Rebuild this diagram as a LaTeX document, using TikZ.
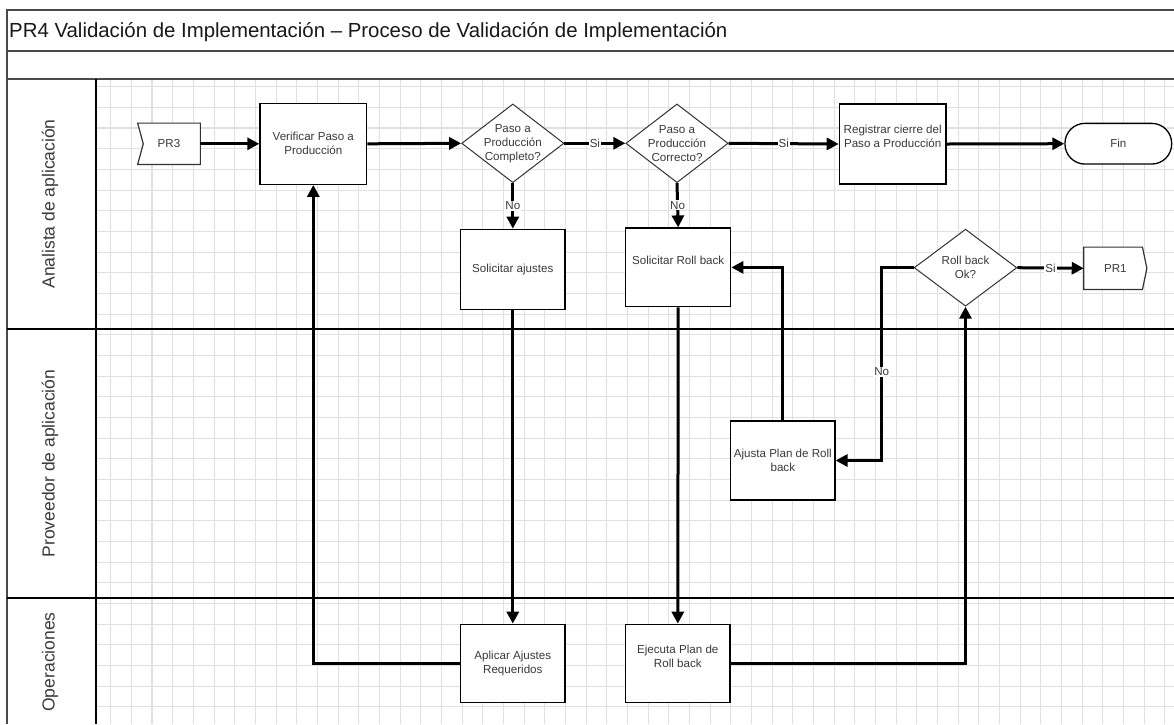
\documentclass[tikz,border=0pt]{standalone}
\usepackage{fontspec}
\setmainfont{Liberation Sans}
\usetikzlibrary{arrows.meta,shapes.geometric,calc}
\definecolor{gridline}{HTML}{E0E0E0}
\definecolor{frameline}{HTML}{4A4A4A}
\definecolor{inktext}{HTML}{3A3A3A}

\begin{document}
\begin{tikzpicture}[x=1pt,y=-1pt,
  every node/.style={font=\fontsize{11.6}{14}\selectfont, text=inktext},
  task/.style={rectangle, draw=black, line width=1.3pt, fill=white, inner sep=0pt, align=center},
  dia/.style={diamond, draw=black!80, line width=1pt, fill=white, inner sep=0pt,
              minimum width=102.3pt, minimum height=78.7pt},
  caption/.style={align=center, inner sep=0pt},
  hidden/.style={rectangle, draw=none, inner sep=0pt},
  connector/.style={draw=black!80, line width=1.2pt, fill=white, line join=miter},
  flow/.style={draw=black, line width=3pt, -{Triangle[length=12pt,width=12pt]}},
  lbl/.style={fill=white, inner sep=1pt},
  lane/.style={rotate=90, font=\fontsize{17.5}{20}\selectfont},
]
\useasboundingbox (0,0) rectangle (1174,724);
\fill[white] (0,0) rectangle (1174,724);

% background grid of the pool
\begin{scope}
  \clip (96,79) rectangle (1174,724);
  \foreach \i in {0,...,51}
    \draw[gridline, line width=1.1pt] ({110.7+20.67*\i},79) -- ({110.7+20.67*\i},724);
  \foreach \j in {0,...,30}
    \draw[gridline, line width=1.1pt] (96,{86.7+20.67*\j}) -- (1174,{86.7+20.67*\j});
\end{scope}

% pool frame, header rows and lanes
\draw[frameline, line width=1.6pt] (7,724) -- (7,10) -- (1174,10);
\draw[frameline, line width=2.2pt] (7,51) -- (1174,51);
\draw[frameline, line width=1.6pt] (7,79) -- (1174,79);
\draw[black, line width=1.3pt] (96,79) -- (96,724);
\draw[black, line width=1.2pt] (7,329) -- (1174,329);
\draw[black, line width=1.2pt] (7,598) -- (1174,598);

\node[anchor=base west, inner sep=0pt, text=black!90, font=\fontsize{20.4}{24}\selectfont] (title) at (9,37.3)
  {PR4 Validación de Implementación – Proceso de Validación de Implementación};

\node[lane] (laneA) at (50,204) {Analista de aplicación};
\node[lane] (laneB) at (50,463.5) {Proveedor de aplicación};
\node[lane] (laneC) at (50,662) {Operaciones};

% off-page references
\node[hidden, minimum width=62.3pt, minimum height=41pt] (pr3) at (169,143.8) {};
\draw[connector] (pr3.north west) -- (pr3.north east) -- (pr3.south east) -- (pr3.south west)
  -- ($(pr3.west)+(5.6,0)$) -- cycle;
\node (pr3T) at (pr3.center) {PR3};

\node[hidden, minimum width=62.7pt, minimum height=42pt] (pr1) at (1115.3,268.3) {};
\draw[connector] (pr1.north west) -- ($(pr1.north east)+(-4.4,0)$) -- (pr1.east)
  -- ($(pr1.south east)+(-4.4,0)$) -- (pr1.south west) -- cycle;
\node (pr1T) at (pr1.center) {PR1};

% tasks
\node[task, minimum width=106.7pt, minimum height=81pt] (verif) at (313.3,143.8) {Verificar Paso a\\Producción};
\node[task, minimum width=106.7pt, minimum height=80pt] (reg) at (892.7,144) {};
\node[caption] (regT) at (892.7,136) {Registrar cierre del\\Paso a Producción};
\node[task, minimum width=106.7pt, minimum height=40.7pt, rounded corners=20pt] (fin) at (1118.3,143.7) {Fin};

\node[task, minimum width=104.3pt, minimum height=80pt] (solaj) at (512.8,269.3) {Solicitar ajustes};
\node[task, minimum width=105pt, minimum height=78.7pt] (solrb) at (678.2,267.4) {};
\node[caption] (solrbT) at (678.2,260) {Solicitar Roll back};

\node[task, minimum width=104.3pt, minimum height=79pt] (ajusta) at (782.8,460.5) {Ajusta Plan de Roll\\back};

\node[task, minimum width=104.3pt, minimum height=78.4pt] (aplic) at (512.8,663.5) {Aplicar Ajustes\\Requeridos};
\node[task, minimum width=104.3pt, minimum height=78.4pt] (ejec) at (677.8,663.5) {};
\node[caption] (ejecT) at (677.8,656) {Ejecuta Plan de\\Roll back};

% decisions
\node[dia] (d1) at (512.8,143.3) {};
\node[caption] (d1T) at (d1.center) {Paso a\\Producción\\Completo?};
\node[dia] (d2) at (677,143.3) {};
\node[caption] (d2T) at (d2.center) {Paso a\\Producción\\Correcto?};
\node[dia, minimum width=102.7pt, minimum height=77pt] (rbok) at (965.5,267.7) {};
\node[caption] (rbokT) at (rbok.center) {Roll back\\Ok?};

% sequence flows
\draw[flow] (pr3.east) -- (verif.west);
\draw[flow] (verif.east) -- (d1.west);
\draw[flow] (d1.east) -- node[lbl] {Si} (d2.west);
\draw[flow] (d2.east) -- node[lbl] {Si} (reg.west);
\draw[flow] (reg.east) -- (fin.west);
\draw[flow] (d1.south) -- node[lbl] {No} (solaj.north);
\draw[flow] (d2.south) -- node[lbl] {No} (solrb.north);
\draw[flow] (solaj.south) -- (aplic.north);
\draw[flow] (solrb.south) -- (ejec.north);
\draw[flow] (aplic.west) -| (verif.south);
\draw[flow] (ejec.east) -| (rbok.south);
\draw[flow] (ajusta.north) |- (solrb.east);
\draw[flow] (rbok.west) -- ++(-32,0) |- node[lbl, pos=0.27] {No} (ajusta.east);
\draw[flow] (rbok.east) -- node[lbl] {Si} (pr1.west);
\end{tikzpicture}
\end{document}
